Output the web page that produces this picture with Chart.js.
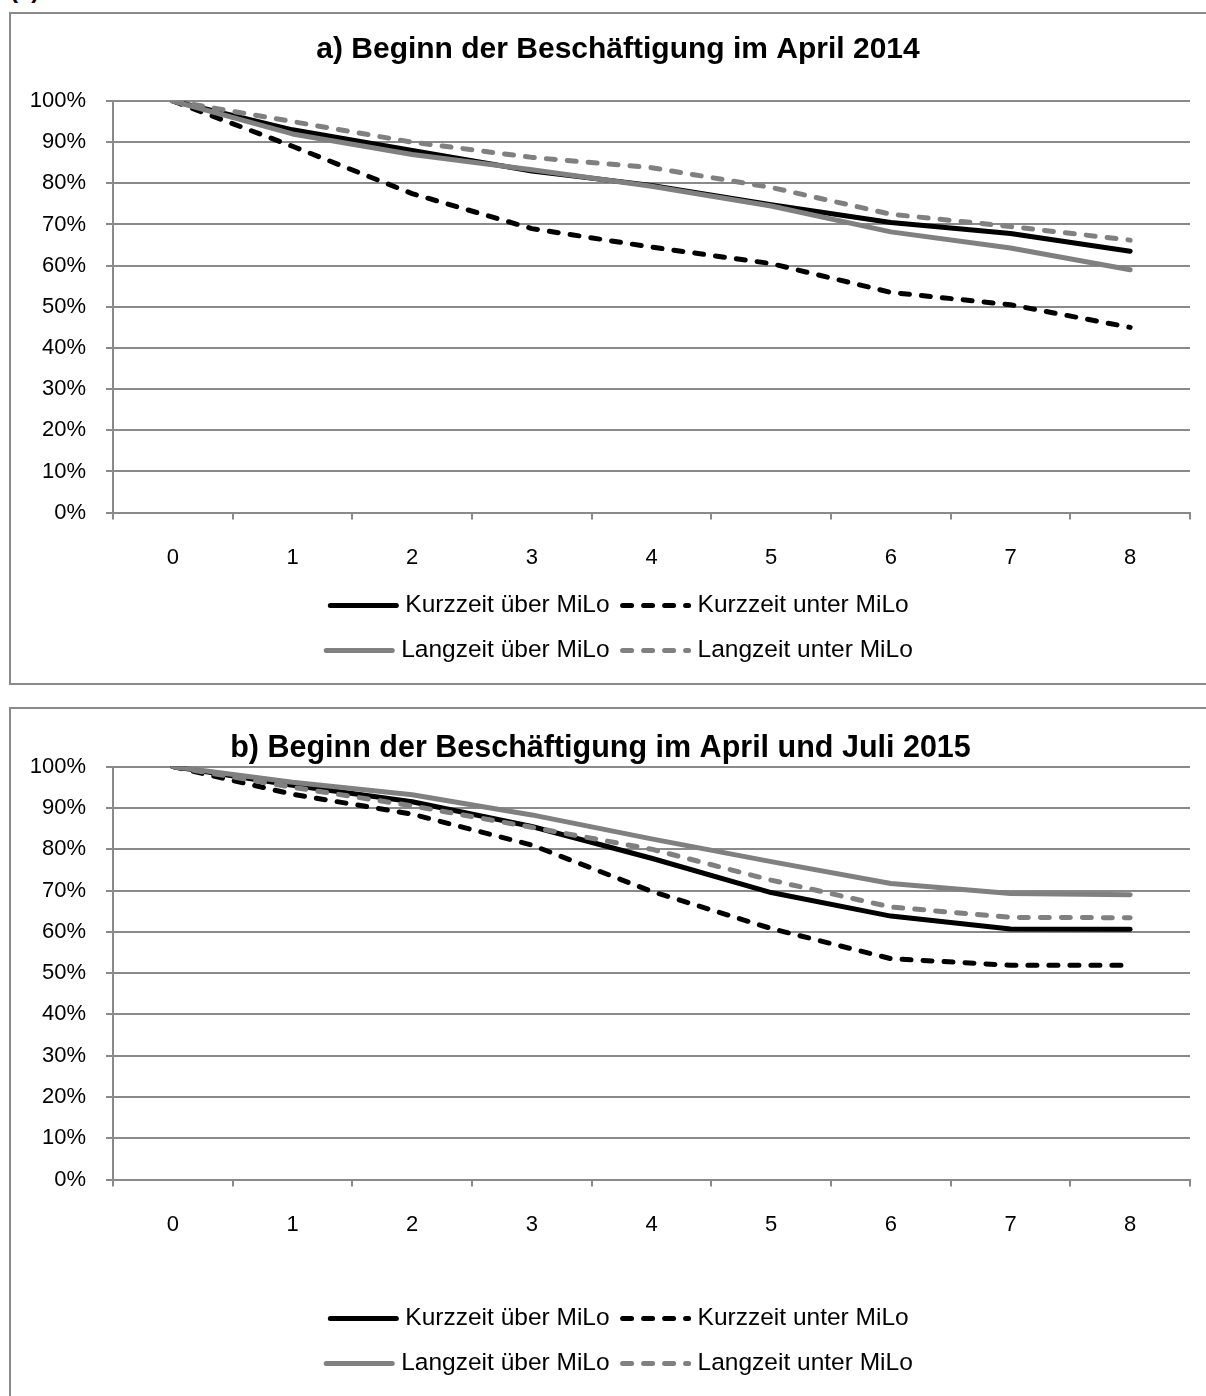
<!DOCTYPE html>
<html lang="de">
<head>
<meta charset="utf-8">
<title>Verbleib in Beschäftigung</title>
<script src="https://cdn.jsdelivr.net/npm/chart.js@4.4.1/dist/chart.umd.min.js"></script>
<style>
  html, body { margin: 0; padding: 0; background: #fff; }
  body { width: 1206px; height: 1396px; overflow: hidden; position: relative; font-family: "Liberation Sans", Arial, sans-serif; }
  .kopf { position: absolute; left: 10px; top: -24px; font-weight: bold; font-size: 24px; white-space: nowrap; }
  .panel { position: absolute; left: 9px; width: 1214px; border: 2px solid #8a8a8a; background: #fff; }
  #panelA { top: 12px; height: 669px; }
  #panelB { top: 707px; height: 700px; }
  canvas { display: block; }
</style>
</head>
<body>
<div class="kopf">(a) Verbleib in den ersten acht Monaten</div>
<div class="panel" id="panelA"><canvas id="grafikA" width="1214" height="669" style="width:1214px;height:669px"></canvas></div>
<div class="panel" id="panelB"><canvas id="grafikB" width="1214" height="700" style="width:1214px;height:700px"></canvas></div>

<script>
// Monate seit Beginn der Beschäftigung
const monate = ['0', '1', '2', '3', '4', '5', '6', '7', '8'];

const serienNamen = ['Kurzzeit über MiLo', 'Kurzzeit unter MiLo', 'Langzeit über MiLo', 'Langzeit unter MiLo'];

// a) Beginn im April 2014 (Anteil noch beschäftigt, in %)
const kurzUeberA  = [100, 93, 88, 83, 79.5, 74.8, 70.5, 67.8, 63.5];
const kurzUnterA  = [100, 89, 77.5, 69, 64.5, 60.5, 53.5, 50.5, 45];
const langUeberA  = [100, 92, 87, 83.3, 79.3, 74.5, 68.2, 64.3, 59];
const langUnterA  = [100, 95, 90, 86.3, 83.8, 79, 72.5, 69.5, 66.2];

// b) Beginn im April und Juli 2015
const kurzUeberB  = [100, 95.5, 91.5, 85.5, 77.8, 69.5, 63.8, 60.7, 60.6];
const kurzUnterB  = [100, 93.3, 88.5, 81, 69.8, 60.8, 53.5, 51.9, 51.9];
const langUeberB  = [100, 96.2, 93.2, 88.3, 82.5, 77, 71.7, 69.3, 69];
const langUnterB  = [100, 95, 90.5, 85.3, 80, 72.5, 66, 63.5, 63.4];

const schrift = '"Liberation Sans", Arial, sans-serif';
const grau = '#808080';
const linienGrau = '#8a8a8a';

// Legende in zwei Zeilen (wie im Original), je zwei Einträge
const legendeZweizeilig = {
  id: 'legendeZweizeilig',
  afterDraw(chart, args, opts) {
    const ctx = chart.ctx;
    const ds = chart.data.datasets;
    ctx.save();
    ctx.font = opts.font;
    ctx.textBaseline = 'middle';
    for (let r = 0; r < 2; r++) {
      const items = ds.slice(r * 2, r * 2 + 2);
      const breiten = items.map(d => opts.lineLength + opts.gap + ctx.measureText(d.label).width);
      const gesamt = breiten.reduce((a, b) => a + b, 0) + opts.spacing * (items.length - 1);
      let x = (chart.width - gesamt) / 2;
      const y = chart.chartArea.bottom + opts.rowOffsets[r];
      items.forEach((d, i) => {
        ctx.strokeStyle = d.borderColor;
        ctx.lineWidth = d.borderWidth;
        ctx.lineCap = 'round';
        ctx.setLineDash(d.borderDash || []);
        ctx.beginPath();
        ctx.moveTo(x + 3, y);
        ctx.lineTo(x + opts.lineLength - 3, y);
        ctx.stroke();
        ctx.setLineDash([]);
        ctx.fillStyle = '#000';
        ctx.fillText(d.label, x + opts.lineLength + opts.gap, y);
        x += breiten[i] + opts.spacing;
      });
    }
    ctx.restore();
  }
};

function serie(name, werte, farbe, gestrichelt, reihenfolge) {
  return {
    label: name,
    data: werte,
    borderColor: farbe,
    backgroundColor: farbe,
    borderWidth: 5,
    borderDash: gestrichelt ? [9, 12] : [],
    borderCapStyle: 'round',
    borderJoinStyle: 'round',
    pointRadius: 0,
    tension: 0,
    fill: false,
    order: reihenfolge
  };
}

// lay: Abstände je Diagramm (Titel, Legende, Rand rechts)
function zeichneGrafik(id, titel, kuU, kuN, laU, laN, lay) {
  const ctx = document.getElementById(id);
  const skalen = {
    x: {
      offset: true,
      grid: { offset: true, drawOnChartArea: false, drawTicks: true, tickLength: 7, color: linienGrau, lineWidth: 2 },
      border: { color: linienGrau, width: 2 },
      ticks: { color: '#000', font: { family: schrift, size: 22 }, padding: 25, maxRotation: 0, autoSkip: false }
    },
    y: {
      min: 0,
      max: 100,
      ticks: {
        stepSize: 10,
        color: '#000',
        font: { family: schrift, size: 22 },
        padding: 20,
        callback: v => v + '%'
      },
      grid: { color: linienGrau, lineWidth: 2, tickLength: 7 },
      border: { color: linienGrau, width: 2 },
      afterFit: s => { s.width = 102; }
    }
  };
  // leere rechte Achse hält Platz frei, ohne die Titelmitte zu verschieben
  if (lay.leerRechts) {
    skalen.leer = {
      position: 'right',
      display: true,
      ticks: { display: false },
      grid: { display: false, drawTicks: false },
      border: { display: false },
      afterFit: s => { s.width = lay.leerRechts; }
    };
  }
  new Chart(ctx, {
    type: 'line',
    data: {
      labels: monate,
      datasets: [
        serie(serienNamen[0], kuU, '#000', false, 3),
        serie(serienNamen[1], kuN, '#000', true, 2),
        serie(serienNamen[2], laU, grau, false, 1),
        serie(serienNamen[3], laN, grau, true, 0)
      ]
    },
    options: {
      responsive: false,
      animation: false,
      layout: { padding: { left: 0, right: lay.randRechts, top: 0, bottom: lay.randUnten } },
      plugins: {
        legend: { display: false },
        tooltip: { enabled: false },
        title: {
          display: true,
          text: titel,
          color: '#000',
          font: { family: schrift, size: lay.titelGroesse, weight: 'bold' },
          padding: { top: lay.titelOben, bottom: lay.titelUnten }
        },
        legendeZweizeilig: {
          font: '24.5px ' + schrift,
          lineLength: 72,
          gap: 6,
          spacing: 10,
          rowOffsets: lay.legendeZeilen
        }
      },
      scales: skalen
    },
    plugins: [legendeZweizeilig]
  });
}

zeichneGrafik('grafikA', 'a) Beginn der Beschäftigung im April 2014',
  kurzUeberA, kurzUnterA, langUeberA, langUnterA,
  { titelGroesse: 30, titelOben: 18, titelUnten: 33, randRechts: 0, leerRechts: 35, randUnten: 87, legendeZeilen: [93, 138] });
zeichneGrafik('grafikB', 'b) Beginn der Beschäftigung im April und Juli 2015',
  kurzUeberB, kurzUnterB, langUeberB, langUnterB,
  { titelGroesse: 30.5, titelOben: 21, titelUnten: 0, randRechts: 35, leerRechts: 0, randUnten: 146, legendeZeilen: [139, 184] });
</script>
</body>
</html>
